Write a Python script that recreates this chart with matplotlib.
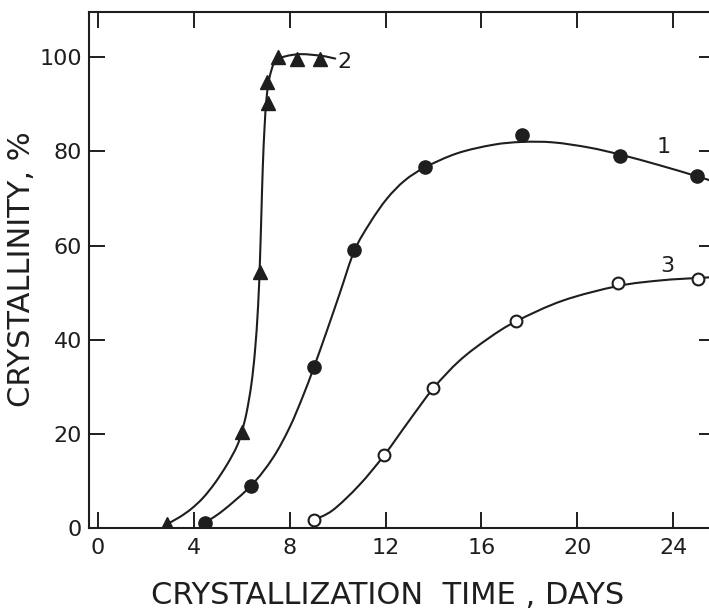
import numpy as np
import matplotlib
matplotlib.use("Agg")
import matplotlib.pyplot as plt
from matplotlib.path import Path
from matplotlib.patches import PathPatch

# measured points (days, % crystallinity)
s1_x = [4.45, 6.4, 9.0, 10.7, 13.65, 17.7, 21.8, 25.0]
s1_y = [1.1, 9.0, 34.2, 59.0, 76.6, 83.4, 79.0, 74.7]

s2_x = [2.9, 6.0, 6.75, 7.1, 7.05, 7.5, 8.3, 9.27]
s2_y = [0.9, 20.4, 54.4, 90.2, 94.7, 100.0, 99.6, 99.6]

s3_x = [9.0, 11.95, 14.0, 17.45, 21.7, 25.04]
s3_y = [1.7, 15.5, 29.7, 43.9, 52.0, 52.9]

# hand-drawn curves
c1_x = [4.45, 5.2, 6.4, 7.3, 8.0, 8.56, 9.0, 9.56, 10.1, 10.7, 11.35, 12.05, 12.8,
        13.65, 15.0, 16.5, 17.7, 19.0, 20.5, 21.8, 23.4, 25.0, 26.0]
c1_y = [1.1, 3.65, 9.05, 14.9, 21.4, 28.1, 34.0, 42.0, 50.0, 58.9, 64.8, 69.9, 73.8,
        76.6, 79.6, 81.4, 82.0, 81.9, 80.8, 79.3, 77.1, 74.7, 73.1]

c2_x = [2.9, 3.4, 3.9, 4.4, 4.9, 5.4, 5.8, 6.0, 6.2, 6.4, 6.55, 6.68, 6.76, 6.82,
        6.88, 6.95, 7.03, 7.15, 7.45, 8.3, 9.3, 9.9]
c2_y = [0.9, 2.3, 4.1, 6.5, 9.7, 13.6, 17.4, 20.4, 24.5, 30.5, 37.5, 47.0, 57.0, 67.0,
        77.0, 85.0, 91.0, 95.5, 99.3, 100.6, 100.3, 99.7]

c3_x = [9.0, 9.8, 10.9, 11.95, 13.0, 14.0, 15.1, 16.3, 17.45, 19.4, 21.7, 23.5,
        25.0, 26.0]
c3_y = [1.7, 3.8, 9.1, 15.5, 22.9, 29.7, 35.6, 40.3, 43.9, 48.3, 51.4, 52.6,
        53.1, 53.35]

x_ticks = [0, 4, 8, 12, 16, 20, 24]
y_ticks = [0, 20, 40, 60, 80, 100]

INK = "#1e1e1e"


def smooth_path(xs, ys):
    # Catmull-Rom through the traced points, as cubic Bezier segments
    p = np.column_stack([xs, ys]).astype(float)
    p = np.vstack([p[0], p, p[-1]])
    verts = [p[1]]
    codes = [Path.MOVETO]
    for i in range(1, len(p) - 2):
        c1 = p[i] + (p[i + 1] - p[i - 1]) / 6.0
        c2 = p[i + 1] - (p[i + 2] - p[i]) / 6.0
        verts += [c1, c2, p[i + 1]]
        codes += [Path.CURVE4] * 3
    return Path(verts, codes)


plt.rcParams['font.family'] = ['DejaVu Sans']

fig = plt.figure(figsize=(7.09, 6.11), dpi=100)
ax = fig.add_axes([0.1255, 0.1358, 0.8830, 0.8446])

for cx, cy in [(c1_x, c1_y), (c2_x, c2_y), (c3_x, c3_y)]:
    ax.add_patch(PathPatch(smooth_path(cx, cy), fill=False, lw=1.5,
                           edgecolor=INK, capstyle='round'))

ax.plot(s1_x, s1_y, 'o', ms=9.5, color=INK, zorder=3)
ax.plot(s2_x, s2_y, '^', ms=10, color=INK, zorder=3)
ax.plot(s3_x, s3_y, 'o', ms=8.5, mfc='white', mec=INK, mew=1.5, zorder=3)

ax.text(10.0, 99.0, "2", fontsize=16, color=INK, ha='left', va='center')
ax.text(23.6, 81.0, "1", fontsize=16, color=INK, ha='center', va='center')
ax.text(23.75, 55.6, "3", fontsize=16, color=INK, ha='center', va='center')

ax.set_xlim(-0.376, 25.75)
ax.set_ylim(0, 109.6)
ax.set_xticks(x_ticks)
ax.set_yticks(y_ticks)
ax.tick_params(direction='in', length=11.5, width=1.4, colors=INK,
               labelsize=16, top=True, right=True)
ax.tick_params(axis='x', pad=7)
ax.tick_params(axis='y', pad=5)
for s in ax.spines.values():
    s.set_linewidth(1.5)
    s.set_color(INK)

ax.set_xlabel("CRYSTALLIZATION  TIME , DAYS", fontsize=22, color=INK, va='center')
ax.set_ylabel("CRYSTALLINITY, %", fontsize=22, color=INK, va='center')
ax.xaxis.set_label_coords(0.4776, -0.13)
ax.yaxis.set_label_coords(-0.107, 0.502)

fig.savefig("out.png", dpi=100)
